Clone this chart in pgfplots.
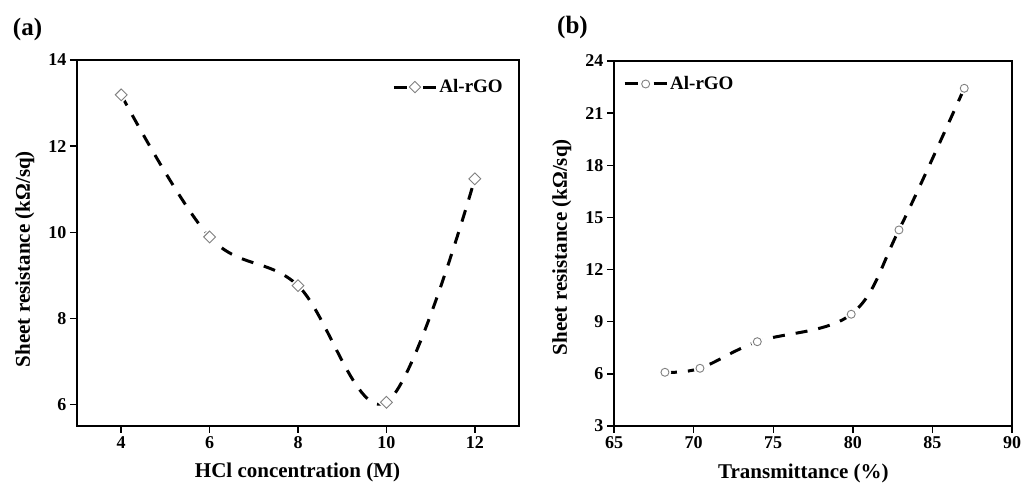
\documentclass[border=0pt]{standalone}
\usepackage{fontspec}
\setmainfont{Liberation Serif}
\usepackage{pgfplots}
\pgfplotsset{compat=1.18}
\begin{document}
\begin{tikzpicture}
\path[use as bounding box] (0pt,0pt) rectangle (1023pt,484pt);
\pgfplotsset{
 myax/.style={
  scale only axis, anchor=south west,
  axis line style={line width=1.6pt},
  every tick/.style={line width=1.4pt, black},
  major tick length=7pt,
  tick align=outside,
  tick pos=left,
  /pgf/number format/assume math mode=true,
  tick label style={font=\fontsize{18}{18}\selectfont\bfseries},
  label style={font=\fontsize{21}{21}\selectfont\bfseries},
  legend style={draw=none, fill=none, font=\fontsize{19}{19}\selectfont\bfseries},
  legend cell align=left,
  legend image code/.code={
    \draw[#1, solid, mark=none] (0pt,0pt) -- (13pt,0pt);
    \draw[#1, solid, mark=none] (29pt,0pt) -- (42pt,0pt);
    \draw[#1, only marks] plot coordinates {(21pt,0pt)};
  },
 },
 myline/.style={black, line width=3pt, dash pattern=on 12pt off 11pt, smooth, tension=0.6},
}
\begin{axis}[myax, at={(77pt,58pt)}, width=442pt, height=366pt,
  xmin=3, xmax=13, ymin=5.5, ymax=14,
  xtick={4,6,8,10,12}, ytick={6,8,10,12,14},
  xlabel={HCl concentration (M)}, ylabel={Sheet resistance (kΩ/sq)},
  xlabel style={at={(axis description cs:0.499,-0.128)}, anchor=center},
  ylabel style={at={(axis description cs:-0.118,0.456)}, anchor=center},
  legend style={at={(axis description cs:0.975,0.926)}, anchor=east},
]
\addplot[myline, forget plot] coordinates {(4,13.19) (6,9.89) (8,8.76) (10,6.05) (12,11.24)};
\addplot[only marks, mark=square*, mark size=6pt, mark options={rotate=45, draw=white, fill=white}, forget plot]
  coordinates {(4,13.19) (6,9.89) (8,8.76) (10,6.05) (12,11.24)};
\addplot[only marks, mark=square, mark size=4.2pt, mark options={rotate=45, draw=gray, fill=white, line width=0.9pt}, forget plot]
  coordinates {(4,13.19) (6,9.89) (8,8.76) (10,6.05) (12,11.24)};
\addlegendimage{black, line width=3pt, mark=square, mark size=4pt, mark options={rotate=45, draw=gray, fill=white, line width=0.9pt}}
\addlegendentry{Al-rGO}
\end{axis}
\begin{axis}[myax, at={(614pt,58pt)}, width=398pt, height=365pt,
  xmin=65, xmax=90, ymin=3, ymax=24,
  xtick={65,70,...,90}, ytick={3,6,...,24},
  xlabel={Transmittance (\%)}, ylabel={Sheet resistance (kΩ/sq)},
  xlabel style={at={(axis description cs:0.476,-0.129)}, anchor=center},
  ylabel style={at={(axis description cs:-0.131,0.49)}, anchor=center},
  legend style={at={(axis description cs:0.015,0.937)}, anchor=west},
]
\addplot[myline, forget plot] coordinates {(68.2,6.09) (70.4,6.32) (74.0,7.85) (79.9,9.43) (82.9,14.28) (87.0,22.43)};
\addplot[only marks, mark=*, mark size=6pt, mark options={draw=white, fill=white}, forget plot]
  coordinates {(68.2,6.09) (70.4,6.32) (74.0,7.85) (79.9,9.43) (82.9,14.28) (87.0,22.43)};
\addplot[only marks, mark=o, mark size=4pt, mark options={draw=gray, fill=white, line width=0.9pt}, forget plot]
  coordinates {(68.2,6.09) (70.4,6.32) (74.0,7.85) (79.9,9.43) (82.9,14.28) (87.0,22.43)};
\addlegendimage{black, line width=3pt, mark=o, mark size=4pt, mark options={draw=gray, fill=white, line width=0.9pt}}
\addlegendentry{Al-rGO}
\end{axis}
\node[font=\fontsize{25}{25}\selectfont\bfseries] at (27.5pt,455pt) {(a)};
\node[font=\fontsize{25}{25}\selectfont\bfseries] at (572.5pt,457pt) {(b)};
\end{tikzpicture}
\end{document}
